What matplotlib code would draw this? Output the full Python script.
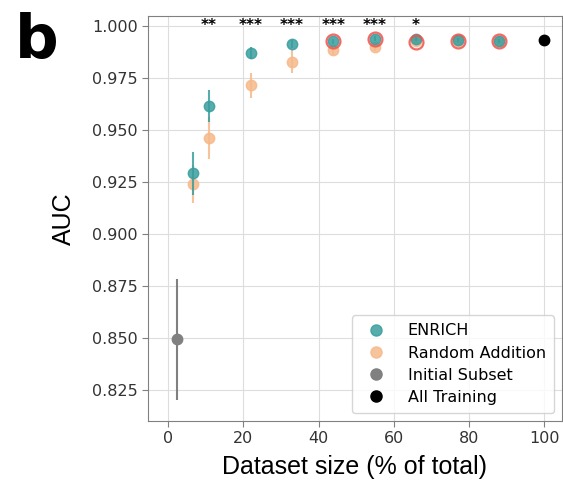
import numpy as np
import matplotlib.pyplot as plt
from matplotlib.lines import Line2D

plt.rcParams.update({'font.family': 'DejaVu Sans'})

# данные
x_pts = [6.65, 10.8, 21.9, 32.8, 43.9, 55.0, 65.9, 76.9, 87.8]
enrich = [0.929, 0.9612, 0.9869, 0.9912, 0.9926, 0.9938, 0.9936, 0.9933, 0.9925]
enrich_err = [0.0105, 0.0077, 0.003, 0.002, 0.0012, 0.0012, 0.001, 0.001, 0.001]
random_add = [0.924, 0.946, 0.9715, 0.9827, 0.9881, 0.990, 0.9925, 0.9925, 0.9925]
random_err = [0.009, 0.010, 0.006, 0.0055, 0.002, 0.002, 0.001, 0.001, 0.001]
ring_x = [43.9, 55.0, 65.9, 76.9, 87.8]
ring_y = [0.9926, 0.9938, 0.9922, 0.9928, 0.9925]
init_x, init_y, init_err = 2.2, 0.8494, 0.029
all_x, all_y = 100, 0.9929
stars_x = [10.8, 21.9, 32.8, 43.9, 55.0, 65.9]
stars = ['**', '***', '***', '***', '***', '*']
yticks = [0.825, 0.850, 0.875, 0.900, 0.925, 0.950, 0.975, 1.000]
xticks = [0, 20, 40, 60, 80, 100]

teal = '#3a9e9e'
orange = '#f6b98a'
gray = '#808080'

fig = plt.figure(figsize=(5.63, 4.92), dpi=100)
ax = fig.add_axes([0.2634, 0.1443, 0.7343, 0.8238])

ax.errorbar(x_pts, random_add, yerr=random_err, fmt='o', color=orange, ms=7.5,
            elinewidth=1.5, alpha=0.85, zorder=3)
ax.errorbar(x_pts, enrich, yerr=enrich_err, fmt='o', color=teal, ms=7.5,
            elinewidth=1.5, alpha=0.85, zorder=4)
ax.plot(ring_x, ring_y, 'o', ms=10, mfc='none', mec='#f0504a', mew=1.6,
        alpha=0.85, zorder=5)
ax.errorbar([init_x], [init_y], yerr=[init_err], fmt='o', color=gray, ms=7.5,
            elinewidth=1.5, zorder=3)
ax.plot([all_x], [all_y], 'o', color='black', ms=7.5, zorder=3)

for xs, s in zip(stars_x, stars):
    ax.text(xs, 1.0002, s, ha='center', va='center', fontsize=11, fontweight='bold')

ax.set_xlim(-5.3, 104.6)
ax.set_ylim(0.8101, 1.0048)
ax.set_xticks(xticks)
ax.set_yticks(yticks)
ax.set_yticklabels([f'{t:.3f}' for t in yticks])
ax.grid(color='#dddddd', lw=0.8)
ax.set_axisbelow(True)
for sp in ax.spines.values():
    sp.set_color(gray)
ax.tick_params(colors=gray, labelcolor='#333333', labelsize=11.5, length=4)

ax.set_xlabel('Dataset size (% of total)', fontsize=18, family='Liberation Sans', labelpad=6)
ax.set_ylabel('AUC', fontsize=18, family='Liberation Sans', labelpad=12)

handles = [Line2D([], [], ls='', marker='o', ms=8, color=c, alpha=a)
           for c, a in [(teal, 0.85), (orange, 0.85), (gray, 1), ('black', 1)]]
labels = ['ENRICH', 'Random Addition', 'Initial Subset', 'All Training']
ax.legend(handles, labels, loc='lower right', fontsize=11.5, frameon=True,
          handletextpad=1.0, borderpad=0.5, labelspacing=0.45)

fig.text(0.027, 0.975, 'b', fontsize=44, fontweight='bold', va='top', ha='left')

fig.savefig('out.png', dpi=100)
